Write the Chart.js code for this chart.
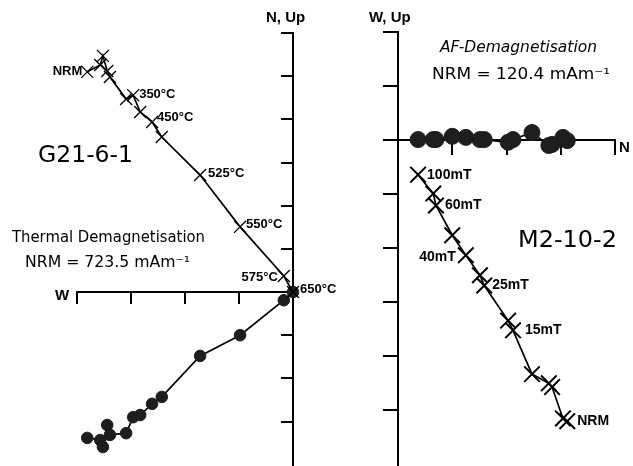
<!DOCTYPE html>
<html><head><meta charset="utf-8">
<script src="https://cdn.jsdelivr.net/npm/chart.js@4.4.1/dist/chart.umd.min.js"></script>
<style>
html,body{margin:0;padding:0;background:#fff;}
#wrap{position:relative;width:633px;height:466px;overflow:hidden;}
canvas{position:absolute;left:0;top:0;}
</style></head><body>
<div id="wrap"><canvas id="c1" width="633" height="466"></canvas><canvas id="c2" width="633" height="466"></canvas></div>
<script>
// ===== Data: G21-6-1, thermal demagnetisation =====
const thermSteps  = ['NRM','100','150','200','250','300','350','400','450','500','525','550','575','650'];
const thermLabels = ['NRM','','','','','','350°C','','450°C','','525°C','550°C','575°C','650°C'];
const thermEW = [-3.81,-3.57,-3.52,-3.44,-3.39,-3.09,-2.96,-2.83,-2.61,-2.43,-1.72,-0.98,-0.17,0];
const thermUp = [5.10,5.26,5.47,5.12,4.98,4.47,4.56,4.17,3.94,3.59,2.71,1.51,0.37,0];
const thermN  = [-3.38,-3.43,-3.59,-3.08,-3.31,-3.27,-2.90,-2.85,-2.59,-2.43,-1.48,-1.00,-0.19,0];
const thermXTicks = [-4,-3,-2,-1,0];
const thermYTicks = [6,5,4,3,2,1,0,-1,-2,-3];

// ===== Data: M2-10-2, AF demagnetisation =====
const afSteps  = ['NRM','2.5','5','7.5','10','15','20','25','30','40','50','60','80','100'];
const afLabels = ['NRM','','','','','15mT','','25mT','','40mT','','60mT','','100mT'];
const afN  = [3.12,3.04,2.84,2.78,2.47,2.12,2.03,1.59,1.51,1.25,1.00,0.70,0.65,0.37];
const afUp = [-5.20,-5.15,-4.57,-4.50,-4.33,-3.52,-3.34,-2.69,-2.50,-2.13,-1.76,-1.21,-0.99,-0.64];
const afW  = [-0.01,0.05,-0.08,-0.10,0.14,0.01,-0.04,0.01,0.01,0.05,0.07,0.01,0.01,0.01];
const afXTicks = [0,1,2,3,4];
const afYTicks = [2,1,0,-1,-2,-3,-4,-5];

// ===== Styles / layout =====
const labelStyle = {
  left: {font:'bold 13px "Liberation Sans", Arial, sans-serif',
    offsets:{'NRM':[-5,0,'right'],'350°C':[6,-1,'left'],'450°C':[5,-5,'left'],'525°C':[8,-2,'left'],
             '550°C':[6,-2,'left'],'575°C':[-6,1,'right'],'650°C':[7,-3,'left']}},
  right:{font:'bold 14px "Liberation Sans", Arial, sans-serif',
    offsets:{'NRM':[10,0,'left'],'15mT':[12,0,'left'],'25mT':[8,0,'left'],'40mT':[-10,2,'right'],
             '60mT':[9,0,'left'],'100mT':[9,0,'left']}}
};
const freeTexts = {
  left:[
    {t:'G21-6-1', x:38, y:156, w:95, font:'23px "DejaVu Sans", sans-serif'},
    {t:'Thermal Demagnetisation', x:12, y:238, w:193, font:'15px "DejaVu Sans", sans-serif'},
    {t:'NRM = 723.5 mAm⁻¹', x:25, y:263, w:165, font:'15px "DejaVu Sans", sans-serif'},
    {t:'N, Up', x:266, y:18, w:0, font:'bold 15px "Liberation Sans", Arial, sans-serif'},
    {t:'W', x:55, y:296, w:0, font:'bold 15px "Liberation Sans", Arial, sans-serif'}
  ],
  right:[
    {t:'AF-Demagnetisation', x:440, y:48, w:157, font:'italic 15px "DejaVu Sans", sans-serif'},
    {t:'NRM = 120.4 mAm⁻¹', x:432, y:75, w:178, font:'15px "DejaVu Sans", sans-serif'},
    {t:'M2-10-2', x:518, y:241, w:99, font:'23px "DejaVu Sans", sans-serif'},
    {t:'W, Up', x:369, y:18, w:0, font:'bold 15px "Liberation Sans", Arial, sans-serif'},
    {t:'N', x:619, y:148, w:0, font:'bold 15px "Liberation Sans", Arial, sans-serif'}
  ]
};

function drawText(ctx, o){
  ctx.save();
  ctx.font = o.font; ctx.fillStyle = '#000'; ctx.textBaseline = 'middle'; ctx.textAlign = 'left';
  const m = ctx.measureText(o.t).width;
  ctx.translate(o.x, o.y);
  if (o.w) ctx.scale(o.w / m, 1);
  ctx.fillText(o.t, 0, 0);
  ctx.restore();
}

function textPlugin(side, labels){
  return {
    id:'texts_'+side,
    afterDatasetsDraw(chart){
      const ctx = chart.ctx;
      const meta = chart.getDatasetMeta(0);
      const st = labelStyle[side];
      ctx.save();
      ctx.font = st.font; ctx.fillStyle = '#000'; ctx.textBaseline = 'middle';
      labels.forEach((lab, i) => {
        if (!lab) return;
        const p = meta.data[i];
        const off = st.offsets[lab] || [6,0,'left'];
        ctx.textAlign = off[2];
        ctx.fillText(lab, p.x + off[0], p.y + off[1]);
      });
      ctx.restore();
      freeTexts[side].forEach(o => drawText(ctx, o));
    }
  };
}

function axisOpts(min, max, ticks, pos, tickLen, w){
  return {
    type:'linear', min:min, max:max, position:pos,
    afterBuildTicks:(scale)=>{ scale.ticks = ticks.map(v=>({value:v})); },
    ticks:{display:false},
    grid:{drawOnChartArea:false, drawTicks:true, tickLength:tickLen, color:'#000', lineWidth:w, tickWidth:w},
    border:{display:true, color:'#000', width:w}
  };
}

function build(id, side, xs, ys1, ys2, labels, xr, yr, xt, yt, pad, cfg){
  const crosses = xs.map((x,i)=>({x:x, y:ys1[i]}));
  const dots = xs.map((x,i)=>({x:x, y:ys2[i]}));
  new Chart(document.getElementById(id), {
    type:'scatter',
    data:{datasets:[
      {data:crosses, showLine:true, borderColor:'#000', borderWidth:cfg.lw, pointStyle:'crossRot',
       pointRadius:cfg.xr, pointBorderWidth:cfg.xw, pointBorderColor:'#000', clip:false, order:1},
      {data:dots, showLine:true, borderColor:'#000', borderWidth:cfg.lw, pointStyle:'circle',
       pointRadius:cfg.cr, pointBackgroundColor:'#1e1e1e', pointBorderColor:'#1e1e1e', pointBorderWidth:1, clip:false, order:2}
    ]},
    options:{
      responsive:false, animation:false, devicePixelRatio:1, events:[],
      layout:{padding:pad, autoPadding:false},
      plugins:{legend:{display:false}, tooltip:{enabled:false}, title:{display:false}},
      scales:{
        x:axisOpts(xr[0], xr[1], xt, {y:0}, cfg.tl, cfg.aw),
        y:axisOpts(yr[0], yr[1], yt, {x:0}, cfg.tl, cfg.aw)
      }
    },
    plugins:[textPlugin(side, labels)]
  });
}

build('c1','left', thermEW, thermUp, thermN, thermLabels, [-4,0], [-4.03,6], thermXTicks, thermYTicks,
  {left:77, right:340, top:33, bottom:0}, {lw:1.7, xr:8.5, xw:1.3, cr:5.8, tl:11, aw:2});
build('c2','right', afN, afUp, afW, afLabels, [0,4], [-6.03,2], afXTicks, afYTicks,
  {left:398, right:18, top:32, bottom:0}, {lw:1.7, xr:11, xw:2, cr:8, tl:14, aw:2});
</script>
</body></html>
